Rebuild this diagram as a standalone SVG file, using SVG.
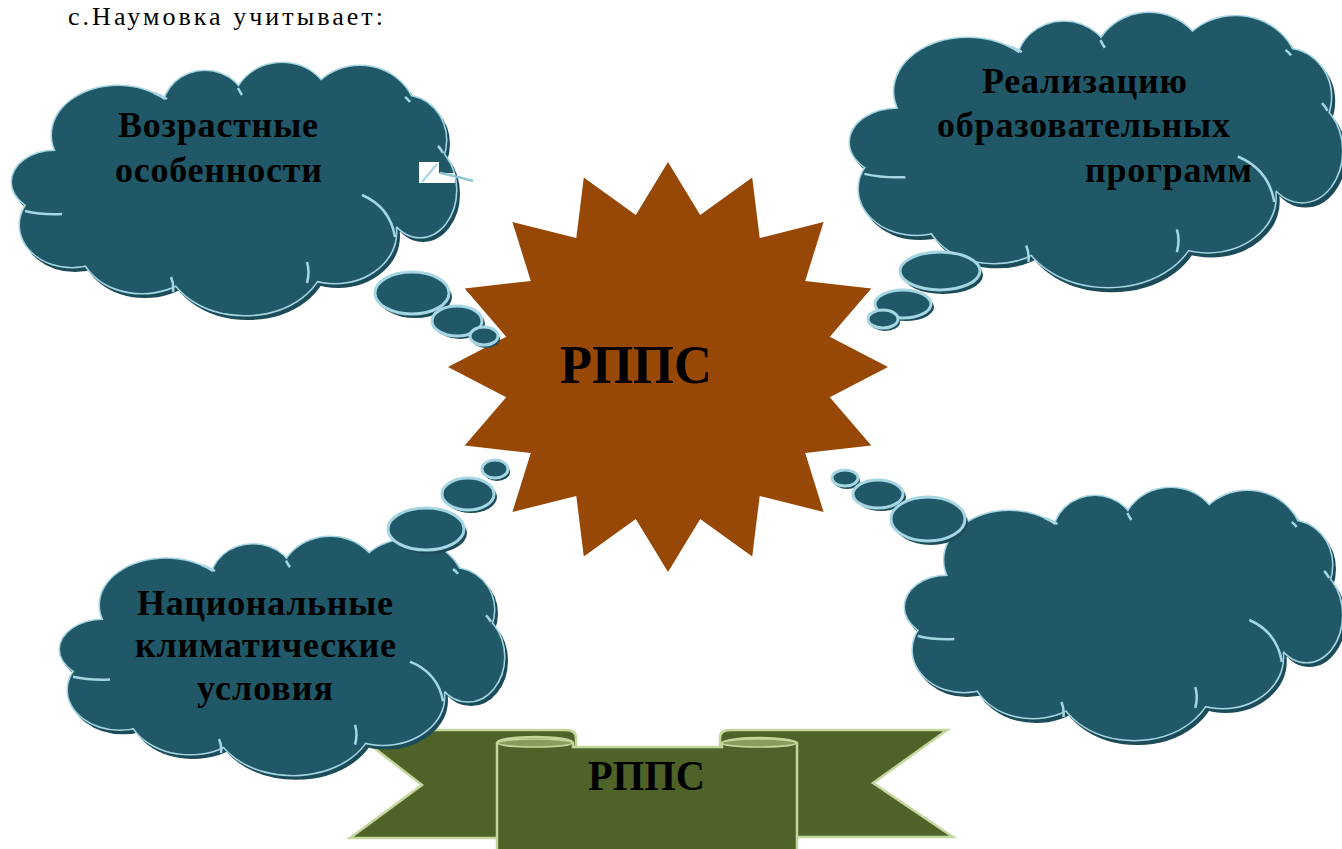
<svg xmlns="http://www.w3.org/2000/svg" xmlns:xlink="http://www.w3.org/1999/xlink" width="1342" height="849" viewBox="0 0 1342 849">
<style>
.cshadow{fill:#1c4c59;stroke:#1c4c59;stroke-width:2}
.cline{fill:#215868;stroke:#a6d6e3;stroke-width:3}
.cfill{fill:#215868;stroke:none}
.carc{fill:none;stroke:#a6d6e3;stroke-width:2.5}
.bsh{fill:#1c4c59}
.bub{fill:#215868;stroke:#a6d6e3;stroke-width:3}
.lbl{font-family:"Liberation Serif","Times New Roman",serif;font-weight:bold;fill:#000}
.rib{fill:#4f6228;stroke:#c3d69b;stroke-width:2.5;stroke-linejoin:miter}
.roll{fill:#8b9d5c;stroke:#c3d69b;stroke-width:1.5}
</style>
<defs>
<g id="lobes">
<ellipse vector-effect="non-scaling-stroke" cx="55" cy="182" rx="43" ry="31"/>
<ellipse vector-effect="non-scaling-stroke" cx="118" cy="135" rx="66" ry="49"/>
<ellipse vector-effect="non-scaling-stroke" cx="205" cy="110" rx="42" ry="39"/>
<ellipse vector-effect="non-scaling-stroke" cx="282" cy="110" rx="50" ry="47"/>
<ellipse vector-effect="non-scaling-stroke" cx="360" cy="118" rx="56" ry="52"/>
<ellipse vector-effect="non-scaling-stroke" cx="405" cy="140" rx="41" ry="44"/>
<ellipse vector-effect="non-scaling-stroke" cx="420" cy="190" rx="36" ry="47"/>
<ellipse vector-effect="non-scaling-stroke" cx="335" cy="232" rx="61" ry="51"/>
<ellipse vector-effect="non-scaling-stroke" cx="245" cy="255" rx="80" ry="60"/>
<ellipse vector-effect="non-scaling-stroke" cx="142" cy="245" rx="62" ry="48"/>
<ellipse vector-effect="non-scaling-stroke" cx="72" cy="225" rx="52" ry="42"/>
<ellipse vector-effect="non-scaling-stroke" cx="235" cy="190" rx="175" ry="95"/>
</g>
<path id="arcs" vector-effect="non-scaling-stroke" d="M362,195 Q390,207 395,237 M25,211 Q42,215 62,214 M307,262 Q310,272 307,283 M171,277 Q174,284 173,292 M167,99 Q161,95 154,93 M238,88 Q240,92 242,95 M405,97 Q408,99 410,102 M443,153 Q441,149 438,146"/>
</defs>

<rect width="1342" height="849" fill="#ffffff"/>

<g id="title">
<text x="68" y="25" font-family="Liberation Serif, Times New Roman, serif" font-size="26" fill="#000" textLength="315" lengthAdjust="spacing">с.Наумовка учитывает:</text>
</g>

<g id="star">
<polygon fill="#974806" points="668,162 700.2,215 752.2,177.6 759.7,238.1 823.6,222 805.2,280.9 871.3,288.6 829.8,336.8 888,367 829.8,397.2 871.3,445.4 805.2,453.1 823.6,512 759.7,495.9 752.2,556.4 700.2,519 668,572 635.8,519 583.8,556.4 576.3,495.9 512.4,512 530.8,453.1 464.7,445.4 506.2,397.2 448,367 506.2,336.8 464.7,288.6 530.8,280.9 512.4,222 576.3,238.1 583.8,177.6 635.8,215"/>
<text class="lbl" x="560" y="383" font-size="54" textLength="152" lengthAdjust="spacingAndGlyphs">РППС</text>
</g>

<g id="ribbon">
<path class="rib" d="M351,730 H566 Q576,730 576,738 V838 H350 L422,785 Z"/>
<path class="rib" d="M947,730 H730 Q720,730 720,738 V837 H953 L873,783 Z"/>
<path class="rib" d="M497,852 V743 A38,6 0 0 1 573,743 V747 H722 V743 A38,6 0 0 1 797,743 V852 Z"/>
<ellipse class="roll" cx="535" cy="743" rx="37" ry="4"/>
<ellipse class="roll" cx="759" cy="743" rx="37" ry="4"/>
<text class="lbl" x="588" y="790" font-size="42" textLength="117" lengthAdjust="spacingAndGlyphs">РППС</text>
</g>

<g id="cloud-age">
<use href="#lobes" class="cshadow" transform="translate(3,4)"/>
<use href="#lobes" class="cline"/>
<use href="#lobes" class="cfill"/>
<use href="#arcs" class="carc"/>
<text class="lbl" x="118" y="137" font-size="36" textLength="200" lengthAdjust="spacing">Возрастные</text>
<text class="lbl" x="115" y="182" font-size="36" textLength="207" lengthAdjust="spacing">особенности</text>
</g>

<g id="cloud-programs">
<g transform="translate(850,13) scale(1.108,1.087) translate(-12,-63)">
<use href="#lobes" class="cshadow" transform="translate(3,4)"/>
<use href="#lobes" class="cline"/>
<use href="#lobes" class="cfill"/>
<use href="#arcs" class="carc"/>
</g>
<text class="lbl" x="982" y="93" font-size="36" textLength="205" lengthAdjust="spacing">Реализацию</text>
<text class="lbl" x="937" y="137" font-size="36" textLength="293" lengthAdjust="spacing">образовательных</text>
<text class="lbl" x="1085" y="182" font-size="36" textLength="167" lengthAdjust="spacing">программ</text>
</g>

<g id="cloud-climate">
<g transform="translate(60,537) scale(1.0,0.944) translate(-12,-63)">
<use href="#lobes" class="cshadow" transform="translate(3,4)"/>
<use href="#lobes" class="cline"/>
<use href="#lobes" class="cfill"/>
<use href="#arcs" class="carc"/>
</g>
<text class="lbl" x="137" y="615" font-size="36" textLength="256" lengthAdjust="spacing">Национальные</text>
<text class="lbl" x="135" y="657" font-size="36" textLength="261" lengthAdjust="spacing">климатические</text>
<text class="lbl" x="197" y="700" font-size="36" textLength="136" lengthAdjust="spacing">условия</text>
</g>

<g id="cloud-empty">
<g transform="translate(905,488) scale(0.984,1) translate(-12,-63)">
<use href="#lobes" class="cshadow" transform="translate(3,4)"/>
<use href="#lobes" class="cline"/>
<use href="#lobes" class="cfill"/>
<use href="#arcs" class="carc"/>
</g>
</g>

<g id="connectors">
<g id="bubbles-tl">
<ellipse class="bsh" cx="415" cy="297" rx="37" ry="21"/><ellipse class="bub" cx="412" cy="293" rx="37" ry="21"/>
<ellipse class="bsh" cx="460" cy="324" rx="25" ry="15"/><ellipse class="bub" cx="457" cy="321" rx="25" ry="15"/>
<ellipse class="bsh" cx="486" cy="339" rx="14" ry="9"/><ellipse class="bub" cx="484" cy="336" rx="14" ry="9"/>
</g>
<g id="bubbles-tr">
<ellipse class="bsh" cx="943" cy="275" rx="40" ry="19"/><ellipse class="bub" cx="940" cy="271" rx="40" ry="19"/>
<ellipse class="bsh" cx="906" cy="307" rx="28" ry="14"/><ellipse class="bub" cx="903" cy="304" rx="28" ry="14"/>
<ellipse class="bsh" cx="885" cy="322" rx="15" ry="9"/><ellipse class="bub" cx="883" cy="319" rx="15" ry="9"/>
</g>
<g id="bubbles-bl">
<ellipse class="bsh" cx="497" cy="472" rx="13" ry="9"/><ellipse class="bub" cx="495" cy="469" rx="13" ry="9"/>
<ellipse class="bsh" cx="471" cy="497" rx="26" ry="16"/><ellipse class="bub" cx="468" cy="494" rx="26" ry="16"/>
<ellipse class="bsh" cx="429" cy="533" rx="38" ry="21"/><ellipse class="bub" cx="426" cy="529" rx="38" ry="21"/>
</g>
<g id="bubbles-br">
<ellipse class="bsh" cx="847" cy="481" rx="13" ry="8"/><ellipse class="bub" cx="845" cy="478" rx="13" ry="8"/>
<ellipse class="bsh" cx="881" cy="497" rx="25" ry="14"/><ellipse class="bub" cx="878" cy="494" rx="25" ry="14"/>
<ellipse class="bsh" cx="931" cy="523" rx="37" ry="22"/><ellipse class="bub" cx="928" cy="519" rx="37" ry="22"/>
</g>
</g>

<g id="artifact">
<polygon fill="#ffffff" points="419,162 439,162 439,173 455,173 455,183 419,183"/>
<path d="M422,182 L437,164" fill="none" stroke="#a6d6e3" stroke-width="2"/>
<path d="M440,173 Q456,176 473,181" fill="none" stroke="#8fc7d3" stroke-width="2.5"/>
</g>
</svg>
